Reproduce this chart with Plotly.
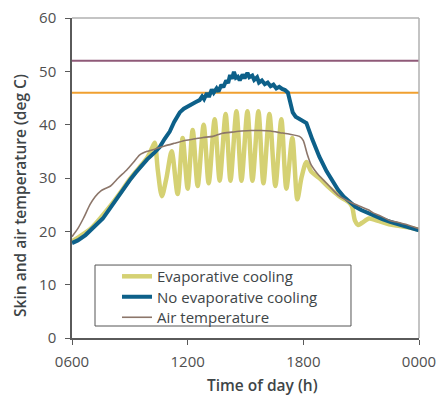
import plotly.graph_objects as go

# ---- data (time in decimal hours from 06:00 to 24:00) ----
evap_t = [6.0, 6.5, 7.0, 7.5, 8.0, 8.5, 9.0, 9.5, 9.9, 10.15, 10.29, 10.45, 10.66, 10.9,
          11.17, 11.48, 11.74, 12.0, 12.26, 12.52, 12.83, 13.09, 13.40, 13.66, 13.97,
          14.22, 14.53, 14.79, 15.10, 15.36, 15.67, 15.93, 16.24, 16.55, 16.86, 17.12,
          17.43, 17.69, 17.9, 18.16, 18.41, 18.83, 19.34, 19.86, 20.38, 20.53, 20.68,
          20.85, 21.05, 21.41, 21.93, 22.45, 23.0, 23.5, 24.0]
evap_v = [18.1, 19.3, 20.6, 22.6, 24.8, 27.2, 29.8, 32.0, 33.8, 35.6, 36.6, 31.5, 26.6, 30.0,
          35.0, 27.0, 37.5, 28.0, 39.0, 28.5, 40.0, 29.0, 41.0, 29.5, 42.0,
          29.5, 42.5, 29.5, 42.5, 29.5, 42.5, 29.0, 42.0, 28.5, 41.0, 28.0,
          37.5, 26.0, 30.0, 33.0, 31.2, 30.0, 28.2, 26.6, 25.4, 24.6, 22.0,
          21.2, 21.6, 22.4, 21.9, 21.3, 21.0, 20.7, 20.3]

noevap_t = [6.0, 6.3, 6.7, 7.0, 7.3, 7.6, 7.97, 8.3, 8.6, 9.0, 9.3, 9.6, 9.9, 10.29, 10.55,
            10.8, 11.07, 11.3, 11.59, 11.8, 12.1, 12.4, 12.62, 12.75, 12.85, 13.0, 13.1,
            13.25, 13.35, 13.5, 13.6, 13.75, 13.85, 14.0, 14.1, 14.2, 14.3, 14.4, 14.5,
            14.6, 14.7, 14.85, 14.95, 15.1, 15.2, 15.35, 15.45, 15.6, 15.7, 15.85, 16.0,
            16.15, 16.3, 16.45, 16.6, 16.75, 16.9, 17.05, 17.2, 17.35, 17.45, 17.6, 17.8,
            18.0, 18.16, 18.47, 18.83, 19.2, 19.5, 19.8, 20.1, 20.4, 20.7, 21.0, 21.3,
            21.7, 22.1, 22.5, 23.0, 23.5, 24.0]
noevap_v = [17.8, 18.3, 19.3, 20.3, 21.2, 22.4, 24.3, 26.0, 27.8, 29.6, 31.0, 32.3, 33.5, 34.8, 35.8,
            37.3, 38.7, 40.5, 42.3, 43.0, 43.5, 44.2, 44.6, 45.3, 44.8, 45.9, 45.2,
            46.6, 46.0, 46.8, 46.2, 47.5, 47.0, 48.3, 47.8, 49.3, 48.6, 49.9, 48.8,
            49.0, 48.3, 49.4, 48.7, 49.7, 48.9, 49.2, 48.4, 48.9, 47.9, 48.3, 47.6,
            47.9, 47.2, 47.5, 46.8, 47.1, 46.7, 46.5, 46.0, 44.0, 42.3, 41.5, 41.0,
            40.5, 40.3, 37.2, 34.0, 31.3, 29.4, 27.8, 26.5, 25.6, 24.6, 24.0, 23.5,
            22.9, 22.3, 21.8, 21.3, 20.8, 20.2]

air_t = [6.0, 6.3, 6.6, 6.93, 7.2, 7.5, 7.7, 8.0, 8.4, 8.84, 9.2, 9.5, 9.9, 10.3, 10.8,
         11.3, 11.8, 12.3, 12.8, 13.3, 13.8, 14.3, 14.8, 15.3, 15.8, 16.3, 16.8, 17.3,
         17.8, 18.0, 18.2, 18.4, 18.8, 19.34, 19.8, 20.53, 21.0, 21.4, 21.6, 22.0, 22.45,
         23.0, 23.5, 24.0]
air_v = [19.0, 20.5, 22.5, 25.0, 26.5, 27.6, 28.0, 28.5, 30.0, 31.5, 33.0, 34.3, 35.0, 35.4, 36.0,
         36.5, 37.0, 37.3, 37.6, 37.8, 38.4, 38.6, 38.8, 38.9, 38.9, 38.8, 38.5, 38.2,
         37.8, 37.0, 34.5, 32.5, 30.5, 28.5, 26.8, 25.3, 24.6, 24.0, 23.5, 22.9, 22.1,
         21.6, 21.1, 20.5]

thresholds = [52, 46]
threshold_colors = ["#8f5a78", "#f0a030"]

x_ticks = [6, 12, 18, 24]
x_tick_labels = ["0600", "1200", "1800", "0000"]
y_ticks = [0, 10, 20, 30, 40, 50, 60]

FONT = "Open Sans"
TXT = "#3e4547"
fig = go.Figure()

for val, col in zip(thresholds, threshold_colors):
    fig.add_trace(go.Scatter(x=[6, 24], y=[val, val], mode="lines",
                             line=dict(color=col, width=2), showlegend=False,
                             hoverinfo="skip"))

fig.add_trace(go.Scatter(x=evap_t, y=evap_v, mode="lines", name="Evaporative cooling",
                         legend="legend",
                         line=dict(color="#d5d173", width=4.5, shape="spline", smoothing=0.8)))
fig.add_trace(go.Scatter(x=noevap_t, y=noevap_v, mode="lines", name="No evaporative cooling",
                         legend="legend2",
                         line=dict(color="#0d6089", width=4, shape="linear")))
fig.add_trace(go.Scatter(x=air_t, y=air_v, mode="lines", name="Air temperature",
                         legend="legend3",
                         line=dict(color="#8c766a", width=1.6, shape="spline", smoothing=0.5)))

leg_common = dict(x=0.1297, xanchor="left", yanchor="middle", bgcolor="rgba(0,0,0,0)",
                  borderwidth=0, font=dict(family=FONT, size=15, color=TXT))

fig.update_layout(
    width=439, height=396,
    margin=dict(l=72, r=20, t=18, b=58),
    paper_bgcolor="white", plot_bgcolor="white",
    font=dict(family=FONT, color="#4a4a4a", size=13),
    legend=dict(y=0.192, **leg_common),
    legend2=dict(y=0.128, **leg_common),
    legend3=dict(y=0.064, **leg_common),
    xaxis=dict(range=[6, 24], tickvals=x_ticks, ticktext=x_tick_labels,
               showgrid=False, zeroline=False, showline=True, linecolor="#5a5a5a",
               linewidth=1.5, ticks="outside", ticklen=5, tickcolor="#5a5a5a",
               ticklabelstandoff=4, automargin=False,
               tickfont=dict(size=15, color="#4f4f4f")),
    yaxis=dict(range=[0, 60], tickvals=y_ticks,
               showgrid=False, zeroline=False, showline=True, linecolor="#5a5a5a",
               linewidth=1.5, ticks="outside", ticklen=5, tickcolor="#5a5a5a",
               ticklabelstandoff=6, automargin=False,
               tickfont=dict(size=15, color="#4f4f4f")),
    annotations=[
        dict(text="Time of day (h)", xref="paper", yref="paper", x=0.548, y=-0.147,
             xanchor="center", yanchor="middle", showarrow=False,
             font=dict(family=FONT, size=15.5, color=TXT, weight=600)),
        dict(text="Skin and air temperature (deg C)", xref="paper", yref="paper",
             x=-0.150, y=0.447, xanchor="center", yanchor="middle", textangle=-90,
             showarrow=False, font=dict(family=FONT, size=15.5, color=TXT, weight=600)),
    ],
    shapes=[
        dict(type="line", xref="paper", yref="paper", x0=0, x1=1, y0=1, y1=1,
             line=dict(color="#b0b0b0", width=1.5)),
        dict(type="line", xref="paper", yref="paper", x0=1, x1=1, y0=0, y1=1,
             line=dict(color="#b0b0b0", width=1.5)),
        dict(type="rect", xref="paper", yref="paper", x0=0.0663, x1=0.804,
             y0=0.0375, y1=0.228, fillcolor="white", layer="below",
             line=dict(color="#555555", width=1)),
    ],
)

fig.write_html("out.html")
